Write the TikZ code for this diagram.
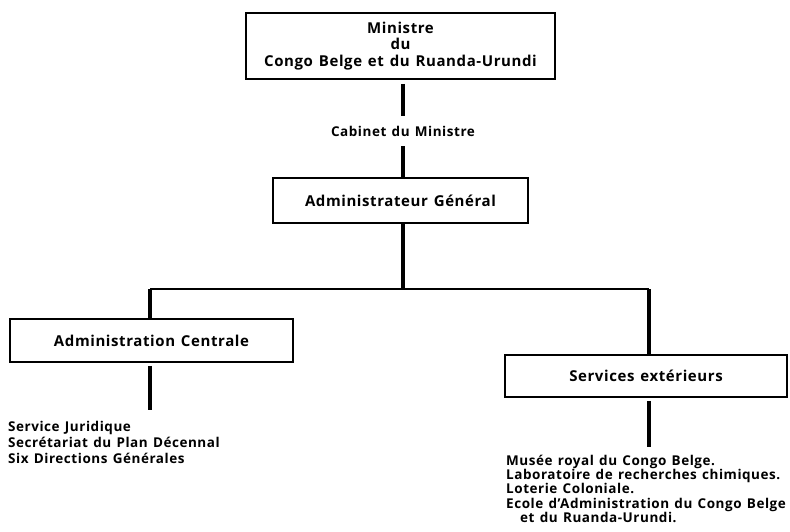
\documentclass[tikz,border=0pt]{standalone}
\usepackage{fontspec}
\setmainfont{Open Sans}[LetterSpace=4, WordSpace=1.3]
\usetikzlibrary{positioning, calc}

\begin{document}
\begin{tikzpicture}[x=1pt, y=-1pt,
        box/.style={rectangle, draw, line width=1.6pt, align=center, inner sep=0pt, font=\bfseries\fontsize{15}{16.5}\selectfont},
        label/.style={inner sep=0pt, font=\bfseries\fontsize{13.5}{14.5}\selectfont},
        note/.style={align=left, inner sep=0pt, font=\bfseries\fontsize{13.5}{14.2}\selectfont},
        bar/.style={line width=4pt},
        bus/.style={line width=2pt}
    ]
        \useasboundingbox (0,0) rectangle (790,532);
        \node[box, minimum width=309pt, minimum height=66pt] (min) at (400.5,46) {Ministre\\du\\Congo Belge et du Ruanda-Urundi};
        \node[label] (cab) at (403,131) {Cabinet du Ministre};
        \node[box, minimum width=255pt, minimum height=45pt] (gen) at (400.5,200.5) {Administrateur Général};
        \node[box, minimum width=283pt, minimum height=43pt] (cent) at (151.5,340.5) {Administration Centrale};
        \node[box, minimum width=282pt, minimum height=42pt] (ext) at (646,376) {Services extérieurs};
        \node[note, anchor=north west, font=\bfseries\fontsize{13.5}{16}\selectfont] (centlist) at (8,421) {Service Juridique\\Secrétariat du Plan Décennal\\Six Directions Générales};
        \node[note, anchor=north west] (extlist) at (506,455) {Musée royal du Congo Belge.\\Laboratoire de recherches chimiques.\\Loterie Coloniale.\\Ecole d'Administration du Congo Belge\\\hspace*{14pt}et du Ruanda-Urundi.};
        \coordinate (busl) at (150,289);
        \coordinate (busr) at (649,289);

        \draw[bar, shorten <=4pt, shorten >=10pt] (min.south -| cab) -- (cab);
        \draw[bar, shorten <=10pt] (cab) -- (gen.north -| cab);
        \draw[bar] (gen.south -| cab) -- (cab |- busl);
        \draw[bus] (busl) -- (busr);
        \draw[bar] (busl) -- (busl |- cent.north);
        \draw[bar] (busr) -- (busr |- ext.north);
        \draw[bar, shorten <=3pt, shorten >=11pt] (cent.south -| busl) -- (busl |- centlist.north);
        \draw[bar, shorten <=3pt, shorten >=8pt] (ext.south -| busr) -- (busr |- extlist.north);
    \end{tikzpicture}
\end{document}
